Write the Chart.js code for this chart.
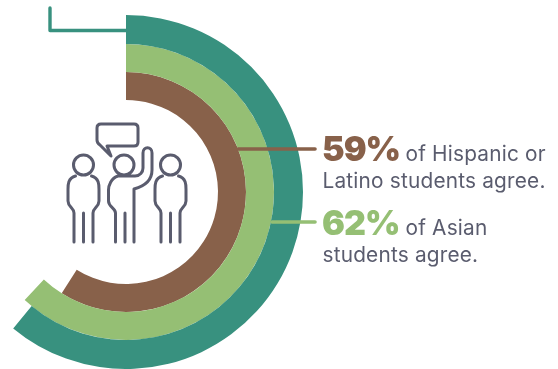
<!DOCTYPE html>
<html>
<head>
<meta charset="utf-8">
<style>
  html, body { margin: 0; padding: 0; background: #fff; overflow: hidden; }
  #wrap { position: relative; width: 558px; height: 369px; overflow: hidden; }
  /* ring is wider than the page: its left edge runs off the side */
  #rings { position: absolute; left: -51px; top: 0; }
</style>
</head>
<body>
<div id="wrap"><canvas id="rings" width="609" height="369"></canvas></div>
<script src="https://cdn.jsdelivr.net/npm/chart.js@4"></script>
<script>
const groups = ["Other students", "Asian", "Hispanic or Latino"];
const agree = [61, 62, 59];
const rest = [39, 38, 41];
const ringColors = ["#38917F", "#95BF74", "#88614A"];
const ringWeights = [29, 28, 28];

const textColor = "#5A5C6E";
const bodyFont = "400 20.8px Inter";
const bigFont = "900 34px Inter";

const shiftX = 51;

function drawLine(ctx, pts, color, w) {
  ctx.strokeStyle = color;
  ctx.lineWidth = w;
  ctx.lineCap = "round";
  ctx.lineJoin = "round";
  ctx.beginPath();
  pts.forEach((p, i) => i ? ctx.lineTo(p[0], p[1]) : ctx.moveTo(p[0], p[1]));
  ctx.stroke();
}

// one standing figure, shoulders and legs, x is the middle of the head
function person(ctx, x) {
  ctx.beginPath();
  ctx.arc(x, 165, 10, 0, Math.PI * 2);
  ctx.moveTo(x - 8, 176);
  ctx.bezierCurveTo(x - 16, 178, x - 15.5, 186, x - 15.5, 190);
  ctx.lineTo(x - 15.5, 201);
  ctx.bezierCurveTo(x - 15.5, 207, x - 9.5, 208, x - 9.5, 213);
  ctx.lineTo(x - 9.5, 242);
  ctx.moveTo(x, 213);
  ctx.lineTo(x, 242);
  ctx.moveTo(x + 9.5, 242);
  ctx.lineTo(x + 9.5, 213);
  ctx.bezierCurveTo(x + 9.5, 208, x + 15.5, 207, x + 15.5, 201);
  ctx.lineTo(x + 15.5, 190);
  ctx.bezierCurveTo(x + 15.5, 186, x + 16, 178, x + 8, 176);
  ctx.stroke();
}

function drawIcon(ctx) {
  ctx.strokeStyle = textColor;
  ctx.lineWidth = 3;
  ctx.lineCap = "round";
  ctx.lineJoin = "round";

  // speech bubble
  ctx.beginPath();
  ctx.moveTo(101, 124);
  ctx.lineTo(134, 124);
  ctx.quadraticCurveTo(138, 124, 138, 128);
  ctx.lineTo(138, 142);
  ctx.quadraticCurveTo(138, 146, 134, 146);
  ctx.lineTo(107, 146);
  ctx.lineTo(111, 156);
  ctx.lineTo(100, 145);
  ctx.quadraticCurveTo(97, 143, 97, 140);
  ctx.lineTo(97, 128);
  ctx.quadraticCurveTo(97, 124, 101, 124);
  ctx.closePath();
  ctx.stroke();

  person(ctx, 83.5);
  person(ctx, 170.5);

  // middle figure with the raised arm
  ctx.beginPath();
  ctx.arc(124, 165, 10, 0, Math.PI * 2);
  ctx.moveTo(135, 176);
  ctx.lineTo(118, 176);
  ctx.bezierCurveTo(111, 178, 108.5, 186, 108.5, 190);
  ctx.lineTo(108.5, 201);
  ctx.bezierCurveTo(108.5, 207, 115.5, 208, 115.5, 213);
  ctx.lineTo(115.5, 242);
  ctx.moveTo(125, 213);
  ctx.lineTo(125, 242);
  ctx.moveTo(134, 242);
  ctx.lineTo(134, 189);
  ctx.bezierCurveTo(145, 186, 152, 180, 152, 170);
  ctx.lineTo(152, 153);
  ctx.bezierCurveTo(152, 146, 143, 146, 143, 153);
  ctx.lineTo(143, 168);
  ctx.bezierCurveTo(143, 172, 140, 176, 135, 176);
  ctx.stroke();
}

const notes = {
  id: "notes",
  afterDraw(chart) {
    const ctx = chart.ctx;
    ctx.save();
    ctx.translate(shiftX, 0);

    // leader lines from the rings out to the text
    drawLine(ctx, [[50, 8], [50, 30.5], [126, 30.5]], ringColors[0], 3.4);
    drawLine(ctx, [[238, 149], [315, 149]], ringColors[2], 3.6);
    drawLine(ctx, [[272, 222], [315, 222]], ringColors[1], 3.6);

    drawIcon(ctx);

    ctx.textBaseline = "alphabetic";
    ctx.textAlign = "left";
    ctx.font = bigFont;
    ctx.letterSpacing = "-1px";
    ctx.fillStyle = ringColors[2];
    ctx.fillText(agree[2] + "%", 322, 161);
    ctx.fillStyle = ringColors[1];
    ctx.fillText(agree[1] + "%", 322, 235);

    ctx.font = bodyFont;
    ctx.letterSpacing = "0.2px";
    ctx.fillStyle = textColor;
    ctx.fillText("of Hispanic or", 405.5, 161);
    ctx.fillText("Latino students agree.", 322.5, 188);
    ctx.fillText("of Asian", 405.5, 235);
    ctx.fillText("students agree.", 322.5, 262);
    ctx.restore();
  }
};

new Chart(document.getElementById("rings"), {
  type: "doughnut",
  data: {
    labels: ["Agree", "Other"],
    datasets: groups.map((g, i) => ({
      label: g,
      data: [agree[i], rest[i]],
      backgroundColor: [ringColors[i], "rgba(0,0,0,0)"],
      borderWidth: 0,
      weight: ringWeights[i]
    }))
  },
  options: {
    responsive: false,
    animation: false,
    events: [],
    cutout: 92,
    layout: { padding: { left: 0, top: 15, right: 255, bottom: 0 } },
    plugins: { legend: { display: false }, tooltip: { enabled: false } }
  },
  plugins: [notes]
});
</script>
</body>
</html>
